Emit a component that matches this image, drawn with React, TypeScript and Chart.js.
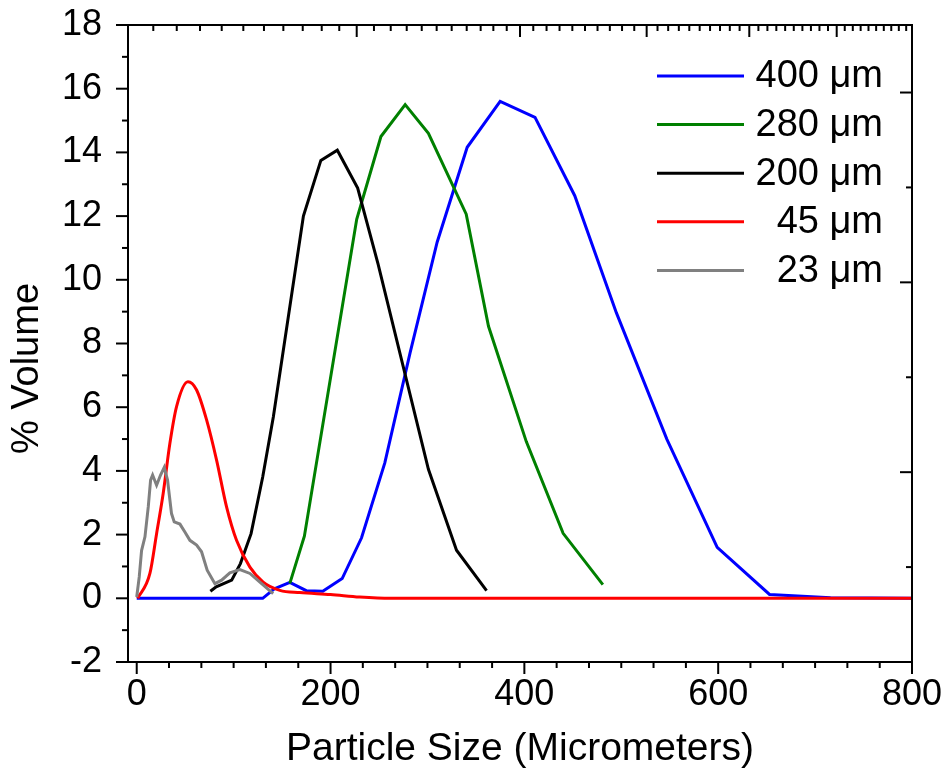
import React, { useEffect, useRef } from 'react';
import { Chart, registerables } from 'chart.js';

Chart.register(...registerables);

const FONT = '"Liberation Sans", Arial, Helvetica, sans-serif';

// Series labels & colours (legend order)
const seriesLabels = ['400 μm', '280 μm', '200 μm', '45 μm', '23 μm'];
const seriesColors = ['#0000FF', '#008000', '#000000', '#FF0000', '#808080'];

// 400 µm (blue)
const blueX = [0, 121, 130, 142, 158, 175, 192, 212, 232, 256, 282, 310, 341, 375, 411, 452, 495, 547, 599, 653, 716, 800];
const blueY = [0, 0, 0, 0.3, 0.5, 0.24, 0.22, 0.62, 1.9, 4.25, 7.7, 11.18, 14.16, 15.6, 15.1, 12.64, 8.96, 5.0, 1.6, 0.12, 0.02, 0];

// 280 µm (green)
const greenX = [158, 173, 227, 252, 277, 301, 340, 363, 402, 440, 481];
const greenY = [0.47, 1.95, 11.9, 14.5, 15.5, 14.6, 12.06, 8.54, 4.92, 2.04, 0.43];

// 200 µm (black)
const blackX = [76, 82, 98, 107, 118, 130, 141, 172, 190, 207, 228, 249, 301, 330, 361];
const blackY = [0.22, 0.36, 0.57, 1.09, 2.03, 3.81, 5.7, 12.0, 13.75, 14.07, 12.88, 10.5, 4.05, 1.51, 0.24];

// 45 µm (red)
const redX = [1, 13.6, 20.5, 27.3, 34.2, 41.1, 52.9, 61.8, 72.1, 82.4, 92.7, 103, 116.8, 130.5, 147.7, 168.3, 200, 230, 262, 800];
const redY = [0, 0.78, 2.03, 3.29, 4.86, 6.02, 6.8, 6.54, 5.6, 4.34, 2.87, 1.82, 0.98, 0.51, 0.25, 0.18, 0.12, 0.04, 0, 0];

// 23 µm (grey)
const grayX = [0, 2.6, 5, 8.5, 11.9, 14.3, 16.4, 20.5, 24.6, 28.4, 31.8, 35.9, 38.7, 44.6, 49.7, 54.9, 61.8, 66.9, 72.7, 80.7, 87.6, 96.1, 106.5, 116.8, 127.1, 140.8];
const grayY = [0.04, 0.67, 1.5, 1.93, 2.87, 3.71, 3.87, 3.55, 3.87, 4.11, 3.71, 2.66, 2.4, 2.33, 2.08, 1.82, 1.67, 1.46, 0.88, 0.46, 0.57, 0.8, 0.9, 0.78, 0.51, 0.15];

// Axes
const X_MIN = -9;
const X_MAX = 800;
const Y_MIN = -2;
const Y_MAX = 18;
const xTickValues = [0, 200, 400, 600, 800];
const xMinorTicks = [33.3, 66.7, 100, 133.3, 166.7, 233.3, 266.7, 300, 333.3, 366.7, 433.3, 466.7, 500, 533.3, 566.7, 633.3, 666.7, 700, 733.3, 766.7];
const yTickValues = [-2, 0, 2, 4, 6, 8, 10, 12, 14, 16, 18];
const yMinorTicks = [-1, 1, 3, 5, 7, 9, 11, 13, 15, 17];
const topMajorTicks = [227.0, 395.5, 526.2, 632.1, 722.3];
const topMinorTicks = [
  17.1, 41.3, 65.3, 87.7, 110, 131.3, 151.3, 171.3, 190.9, 209,
  244.8, 262.1, 278.6, 294.1, 309.5, 325, 340.5, 354.9, 368, 381.8,
  409.2, 422.9, 436.3, 449.5, 462.6, 475.5, 488.2, 500.8, 513.4,
  537.4, 548.4, 559.4, 570.2, 580.9, 591.6, 601.9, 612, 622.1,
  641.5, 650.8, 660, 669.1, 678, 686.9, 695.7, 704.5, 713.3,
  730.6, 738.9, 747, 755.1, 763, 770.9, 778.6, 786.4, 794,
];
const rightMajorTicks = [-2, 3.96, 9.92, 15.88];
const rightMinorTicks = [0.98, 6.94, 12.9];

const xTitle = 'Particle Size (Micrometers)';
const yTitle = '% Volume';

const toPoints = (xs: number[], ys: number[]) => xs.map((x, i) => ({ x, y: ys[i] }));

const zeroPad = (s: any) => {
  s.paddingTop = 0;
  s.paddingBottom = 0;
  s.paddingLeft = 0;
  s.paddingRight = 0;
};

const framePlugin = {
  id: 'framePlugin',
  afterDatasetsDraw(chart: any) {
    const { ctx, chartArea: a, scales } = chart;
    const xs = scales.x;
    const ys = scales.y;
    const MAJ = 12;
    const MIN = 6;
    ctx.save();
    ctx.strokeStyle = '#000';
    ctx.lineWidth = 2;
    ctx.lineCap = 'butt';
    const line = (x1: number, y1: number, x2: number, y2: number) => {
      ctx.beginPath();
      ctx.moveTo(x1, y1);
      ctx.lineTo(x2, y2);
      ctx.stroke();
    };
    // frame
    ctx.strokeRect(a.left, a.top, a.right - a.left, a.bottom - a.top);
    // bottom (outward)
    xTickValues.forEach((v) => { const p = xs.getPixelForValue(v); line(p, a.bottom, p, a.bottom + MAJ); });
    xMinorTicks.forEach((v) => { const p = xs.getPixelForValue(v); line(p, a.bottom, p, a.bottom + MIN); });
    // left (outward)
    yTickValues.forEach((v) => { const p = ys.getPixelForValue(v); line(a.left, p, a.left - MAJ, p); });
    yMinorTicks.forEach((v) => { const p = ys.getPixelForValue(v); line(a.left, p, a.left - MIN, p); });
    // top (inward)
    topMajorTicks.forEach((v) => { const p = xs.getPixelForValue(v); line(p, a.top, p, a.top + MAJ); });
    topMinorTicks.forEach((v) => { const p = xs.getPixelForValue(v); line(p, a.top, p, a.top + MIN); });
    // right (inward)
    rightMajorTicks.forEach((v) => { const p = ys.getPixelForValue(v); line(a.right, p, a.right - MAJ, p); });
    rightMinorTicks.forEach((v) => { const p = ys.getPixelForValue(v); line(a.right, p, a.right - MIN, p); });

    // y axis title
    ctx.fillStyle = '#000';
    ctx.font = `38px ${FONT}`;
    ctx.textAlign = 'center';
    ctx.textBaseline = 'middle';
    ctx.save();
    ctx.translate(28, (a.top + a.bottom) / 2 + 25);
    ctx.rotate(-Math.PI / 2);
    ctx.fillText(yTitle, 0, 0);
    ctx.restore();

    // legend
    const lx1 = 657;
    const lx2 = 744;
    const ly0 = 76;
    const dy = 48.6;
    ctx.font = `38px ${FONT}`;
    ctx.textAlign = 'right';
    ctx.textBaseline = 'middle';
    seriesLabels.forEach((lab, i) => {
      const y = ly0 + i * dy;
      ctx.strokeStyle = seriesColors[i];
      ctx.lineWidth = 3;
      line(lx1, y, lx2, y);
      ctx.fillText(lab, 883, y + 1);
    });
    ctx.restore();
  },
};

export default function App() {
  const ref = useRef<HTMLCanvasElement | null>(null);

  useEffect(() => {
    if (!ref.current) return;
    const seriesX = [blueX, greenX, blackX, redX, grayX];
    const seriesY = [blueY, greenY, blackY, redY, grayY];
    const datasets = seriesLabels.map((label, i) => ({
      label,
      data: toPoints(seriesX[i], seriesY[i]),
      borderColor: seriesColors[i],
      backgroundColor: seriesColors[i],
      borderWidth: 3,
      pointRadius: 0,
      fill: false,
      tension: 0,
      cubicInterpolationMode: i === 3 ? 'monotone' : 'default',
      order: 5 - i,
    }));

    const chart = new Chart(ref.current, {
      type: 'line',
      data: { datasets } as any,
      options: {
        animation: false,
        responsive: false,
        maintainAspectRatio: false,
        events: [],
        layout: { padding: { top: 25, right: 34, left: 0, bottom: 0 } },
        plugins: {
          legend: { display: false },
          tooltip: { enabled: false },
        },
        scales: {
          x: {
            type: 'linear',
            position: 'bottom',
            min: X_MIN,
            max: X_MAX,
            afterBuildTicks: (s: any) => { s.ticks = xTickValues.map((v) => ({ value: v })); },
            afterFit: (s: any) => { s.height = 112; zeroPad(s); },
            grid: { display: false, drawTicks: false },
            border: { display: false },
            ticks: {
              autoSkip: false,
              maxRotation: 0,
              padding: 11,
              color: '#000',
              font: { family: FONT, size: 36 },
            },
            title: {
              display: true,
              text: xTitle,
              color: '#000',
              font: { family: FONT, size: 39 },
              padding: { top: 0, bottom: 1 },
            },
          },
          y: {
            type: 'linear',
            position: 'left',
            min: Y_MIN,
            max: Y_MAX,
            afterBuildTicks: (s: any) => { s.ticks = yTickValues.map((v) => ({ value: v })); },
            afterFit: (s: any) => { s.width = 128; zeroPad(s); },
            grid: { display: false, drawTicks: false },
            border: { display: false },
            ticks: {
              autoSkip: false,
              padding: 26,
              color: '#000',
              font: { family: FONT, size: 36 },
            },
          },
        },
      },
      plugins: [framePlugin],
    } as any);
    return () => chart.destroy();
  }, []);

  return (
    <div style={{ position: 'fixed', left: 0, top: 0, width: 946, height: 774, background: '#fff' }}>
      <canvas ref={ref} width={946} height={774} style={{ width: 946, height: 774, display: 'block' }} />
    </div>
  );
}
